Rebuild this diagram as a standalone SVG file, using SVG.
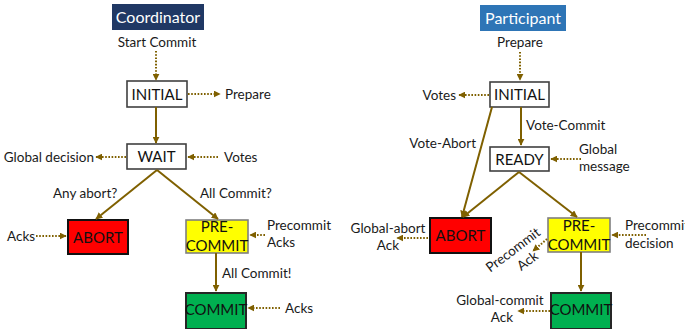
<svg xmlns="http://www.w3.org/2000/svg" width="685" height="329" viewBox="0 0 685 329">
  <defs>
    <marker id="head" viewBox="0 0 10 10" refX="9" refY="5" markerWidth="7" markerHeight="7" markerUnits="userSpaceOnUse" orient="auto">
      <path d="M0,0 L10,5 L0,10 z" fill="#7f6000"/>
    </marker>
    <style>
      .lbl { font-family: Lato, "Open Sans", "Liberation Sans", sans-serif; font-size: 13.5px; fill: #1a1a1a; }
      .node { font-family: Lato, "Open Sans", "Liberation Sans", sans-serif; font-size: 15px; fill: #111; text-anchor: middle; }
      .head { font-family: Lato, "Open Sans", "Liberation Sans", sans-serif; font-size: 16px; fill: #fff; text-anchor: middle; }
      .flow { stroke: #7f6000; stroke-width: 2; fill: none; marker-end: url(#head); }
      .msg { stroke: #7f6000; stroke-width: 2; stroke-dasharray: 1.6 1.6; fill: none; marker-end: url(#head); }
      .plain { fill: #fff; stroke: #404040; stroke-width: 1.6; }
      .mid { text-anchor: middle; }
      .end { text-anchor: end; }
    </style>
  </defs>

  <!-- Coordinator side -->
  <g id="coordinator-title">
    <rect x="112" y="4" width="92" height="26" fill="#203864"/>
    <text class="head" x="158" y="23">Coordinator</text>
  </g>
  <g id="c-initial">
    <rect class="plain" x="127" y="81" width="60" height="26"/>
    <text class="node" x="157" y="99.5">INITIAL</text>
  </g>
  <g id="c-wait">
    <rect class="plain" x="127" y="144" width="59" height="25"/>
    <text class="node" x="156.5" y="162">WAIT</text>
  </g>
  <g id="c-abort">
    <rect x="68" y="220" width="60" height="34" fill="#ff0000" stroke="#111" stroke-width="2"/>
    <text class="node" x="98" y="243">ABORT</text>
  </g>
  <g id="c-precommit">
    <rect x="186" y="220" width="62" height="33" fill="#ffff00" stroke="#7f7f7f" stroke-width="1.6"/>
    <text class="node" x="217" y="232">PRE-</text>
    <text class="node" x="217" y="251">COMMIT</text>
  </g>
  <g id="c-commit">
    <rect x="186" y="293" width="60" height="36" fill="#00b050" stroke="#262626" stroke-width="2"/>
    <text class="node" x="216" y="315">COMMIT</text>
  </g>

  <!-- Participant side -->
  <g id="participant-title">
    <rect x="480" y="5" width="86" height="26" fill="#2e75b6"/>
    <text class="head" x="523" y="24">Participant</text>
  </g>
  <g id="p-initial">
    <rect class="plain" x="490" y="82" width="59" height="25"/>
    <text class="node" x="519.5" y="100">INITIAL</text>
  </g>
  <g id="p-ready">
    <rect class="plain" x="490" y="147" width="59" height="24"/>
    <text class="node" x="519.5" y="165">READY</text>
  </g>
  <g id="p-abort">
    <rect x="430" y="218" width="61" height="35" fill="#ff0000" stroke="#111" stroke-width="2"/>
    <text class="node" x="460.5" y="241">ABORT</text>
  </g>
  <g id="p-precommit">
    <rect x="548" y="218" width="62" height="34" fill="#ffff00" stroke="#7f7f7f" stroke-width="1.6"/>
    <text class="node" x="579" y="231">PRE-</text>
    <text class="node" x="579" y="250">COMMIT</text>
  </g>
  <g id="p-commit">
    <rect x="551" y="293" width="60" height="36" fill="#00b050" stroke="#262626" stroke-width="2"/>
    <text class="node" x="581" y="315">COMMIT</text>
  </g>

  <!-- Transitions and messages -->
  <g id="connectors">
    <!-- coordinator -->
    <line class="msg" x1="156" y1="51" x2="156" y2="80"/>
    <line class="msg" x1="188" y1="94" x2="220" y2="94"/>
    <line class="flow" x1="156" y1="107" x2="156" y2="143"/>
    <line class="msg" x1="126" y1="157" x2="96" y2="157"/>
    <line class="msg" x1="218" y1="157" x2="188" y2="157"/>
    <line class="flow" x1="157" y1="170" x2="96" y2="219"/>
    <line class="flow" x1="157" y1="170" x2="218" y2="219"/>
    <line class="msg" x1="36" y1="236" x2="66" y2="236"/>
    <line class="msg" x1="265" y1="235" x2="250" y2="235"/>
    <line class="flow" x1="216" y1="253" x2="216" y2="291"/>
    <line class="msg" x1="280" y1="308" x2="248" y2="308"/>
    <!-- participant -->
    <line class="msg" x1="520" y1="52" x2="520" y2="80"/>
    <line class="msg" x1="489" y1="95" x2="459" y2="95"/>
    <line class="flow" x1="521" y1="107" x2="521" y2="145"/>
    <line class="flow" x1="492" y1="107" x2="462" y2="217"/>
    <line class="msg" x1="581" y1="159" x2="551" y2="159"/>
    <line class="flow" x1="519" y1="172" x2="463" y2="217"/>
    <line class="flow" x1="519" y1="172" x2="577" y2="217"/>
    <line class="msg" x1="428" y1="238" x2="397" y2="238"/>
    <line class="msg" x1="646" y1="235" x2="612" y2="235"/>
    <line class="msg" x1="547" y1="239" x2="533" y2="251"/>
    <line class="flow" x1="581" y1="252" x2="581" y2="291"/>
    <line class="msg" x1="550" y1="311" x2="518" y2="311"/>
  </g>

  <!-- Labels -->
  <g id="labels">
    <text class="lbl mid" x="157" y="47">Start Commit</text>
    <text class="lbl" x="225" y="99">Prepare</text>
    <text class="lbl end" x="94" y="162">Global decision</text>
    <text class="lbl" x="224" y="162">Votes</text>
    <text class="lbl" x="53" y="198">Any abort?</text>
    <text class="lbl" x="200" y="198">All Commit?</text>
    <text class="lbl" x="7" y="241">Acks</text>
    <text class="lbl" x="267" y="230">Precommit</text>
    <text class="lbl" x="267" y="247">Acks</text>
    <text class="lbl" x="222" y="278">All Commit!</text>
    <text class="lbl" x="285" y="313">Acks</text>

    <text class="lbl mid" x="520" y="47">Prepare</text>
    <text class="lbl end" x="456" y="100">Votes</text>
    <text class="lbl" x="526" y="130">Vote-Commit</text>
    <text class="lbl end" x="476" y="148">Vote-Abort</text>
    <text class="lbl" x="579" y="154">Global</text>
    <text class="lbl" x="579" y="171">message</text>
    <text class="lbl mid" x="388" y="233">Global-abort</text>
    <text class="lbl mid" x="388" y="250">Ack</text>
    <text class="lbl" x="625" y="230">Precommit</text>
    <text class="lbl" x="625" y="248">decision</text>
    <g transform="translate(513,250) rotate(-37)">
      <text class="lbl mid" x="0" y="4.5">Precommit</text>
      <text class="lbl mid" x="5" y="22">Ack</text>
    </g>
    <text class="lbl mid" x="500" y="305">Global-commit</text>
    <text class="lbl mid" x="502" y="322">Ack</text>
  </g>
</svg>
